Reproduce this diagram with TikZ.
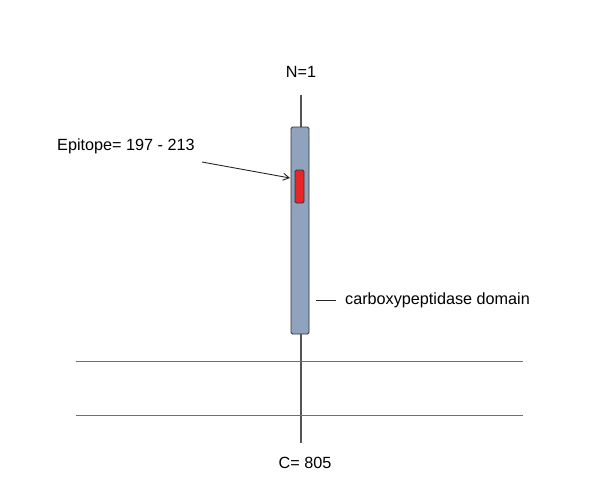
\documentclass[tikz,border=0pt]{standalone}
\usepackage{fontspec}
\setmainfont{Liberation Sans}
\usetikzlibrary{arrows.meta}
\definecolor{barfill}{HTML}{8FA3BF}
\definecolor{epired}{HTML}{E8262A}
\definecolor{memblue}{HTML}{3F78C0}
\definecolor{axisgray}{HTML}{555555}
\begin{document}
\begin{tikzpicture}[x=1pt,y=-1pt,
  lbl/.style={font=\fontsize{16.2}{18}\selectfont, inner sep=0pt},
  axis/.style={draw=axisgray, line width=1.3pt},
  memb/.style={draw=memblue, line width=1pt},
  ptr/.style={draw=black!85, line width=0.9pt}]
\useasboundingbox (0,0) rectangle (600,501);
\coordinate (ntop) at (301,95);
\coordinate (cbot) at (301,443);
\draw[axis] (ntop) -- (cbot);
\coordinate (m1l) at (76,361);
\coordinate (m1r) at (523,361);
\coordinate (m2l) at (76,415);
\coordinate (m2r) at (523,415);
\draw[memb] (m1l) -- (m1r);
\draw[memb] (m2l) -- (m2r);
\node[draw=black!80, fill=barfill, line width=0.8pt, rounded corners=1.5pt, minimum width=18pt, minimum height=207pt, inner sep=0pt] (bar) at (300,230.5) {};
\node[draw=black!80, fill=epired, line width=0.8pt, rounded corners=1.5pt, minimum width=9pt, minimum height=33pt, inner sep=0pt] (epi) at (299.5,186.5) {};
\node[lbl] (nlab) at (301,72) {N=1};
\node[lbl] (clab) at (305,463) {C= 805};
\node[lbl, anchor=west] (elab) at (57,146) {Epitope= 197 - 213};
\coordinate (astart) at (202,162);
\coordinate (atip) at (290,178);
\draw[ptr, -{Straight Barb[length=6pt,width=7pt]}] (astart) -- (atip);
\node[lbl, anchor=west] (dlab) at (345,300) {carboxypeptidase domain};
\coordinate (dl1) at (316,300);
\coordinate (dl2) at (336,300);
\draw[ptr] (dl1) -- (dl2);
\end{tikzpicture}
\end{document}
